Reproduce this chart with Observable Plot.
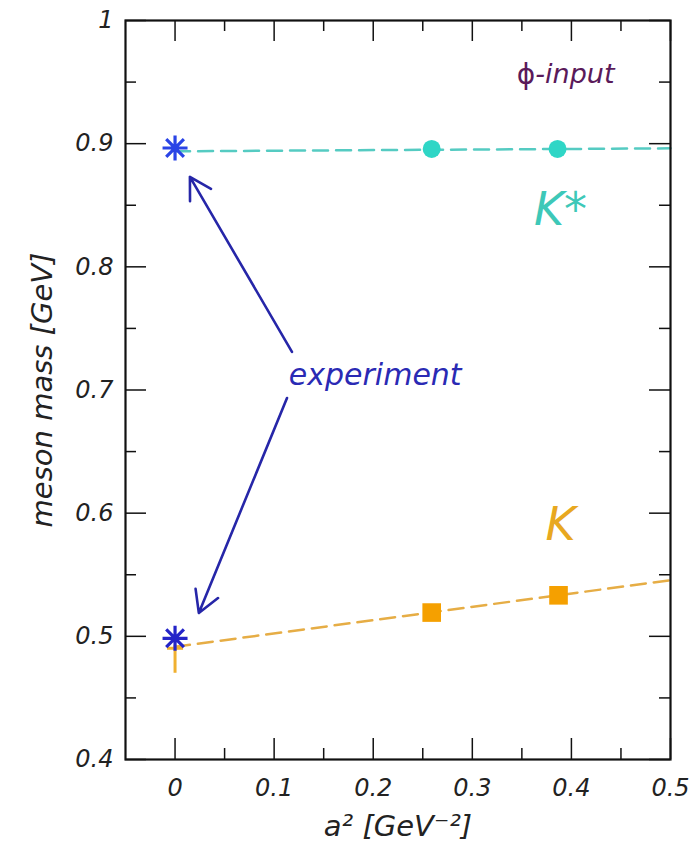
<!DOCTYPE html>
<html>
<head>
<meta charset="utf-8">
<script src="https://cdn.jsdelivr.net/npm/d3@7"></script>
<script src="https://cdn.jsdelivr.net/npm/@observablehq/plot@0.6"></script>
<style>
  html, body { margin: 0; padding: 0; background: #fff; }
  #chart svg { display: block; }
</style>
</head>
<body>
<div id="chart"></div>
<script>
// ---- data ----
const xMajor = [0, 0.1, 0.2, 0.3, 0.4, 0.5];
const xTickLabels = ["0", "0.1", "0.2", "0.3", "0.4", "0.5"];
const xMinor = [0.05, 0.15, 0.25, 0.35, 0.45];
const yMajor = [0.4, 0.5, 0.6, 0.7, 0.8, 0.9, 1.0];
const yTickLabels = ["0.4", "0.5", "0.6", "0.7", "0.8", "0.9", "1"];
const yMinor = [0.45, 0.55, 0.65, 0.75, 0.85, 0.95];

// lattice points
const kstarA2 = [0.259, 0.386];
const kstarMass = [0.8957, 0.8957];
const kA2 = [0.259, 0.387];
const kMass = [0.5193, 0.5333];

// linear fits (dashed)
const kstarFitX = [0, 0.5];
const kstarFitY = [0.8938, 0.8962];
const kFitX = [0, 0.5];
const kFitY = [0.4915, 0.5456];

// extrapolated K with error
const kExtrap = [{x: 0, y: 0.4903, lo: 0.470, hi: 0.4927}];

// experiment
const expA2 = [0, 0];
const expMass = [0.8965, 0.4984];
const expColors = ["#2a44e6", "#2424c8"];

// annotations
const labels = [
  {x: 0.389, y: 0.846, text: "K*", color: "#3ec8b8", size: 46},
  {x: 0.389, y: 0.590, text: "K", color: "#e8a820", size: 46},
  {x: 0.202, y: 0.712, text: "experiment", color: "#2a2ab4", size: 30}
];
const phiLabel = [{x: 0.3636, y: 0.956}];
const arrows = [
  {x1: 0.118, y1: 0.731, x2: 0.015, y2: 0.873},
  {x1: 0.113, y1: 0.6935, x2: 0.024, y2: 0.519}
];

// ---- build ----
const W = 697, H = 852;
const mL = 125, mR = 27, mT = 20, mB = 93;
const innerW = W - mL - mR, innerH = H - mT - mB;
const font = "DejaVu Sans";

const asterisk = {
  draw(ctx, size) {
    const r = Math.sqrt(size / Math.PI);
    for (let k = 0; k < 4; k++) {
      const a = k * Math.PI / 4;
      const dx = r * Math.cos(a), dy = r * Math.sin(a);
      ctx.moveTo(-dx, -dy); ctx.lineTo(dx, dy);
    }
  }
};
const hline = {
  draw(ctx, size) {
    const r = Math.sqrt(size / Math.PI);
    ctx.moveTo(-r, 0); ctx.lineTo(r, 0);
  }
};

const kstarPts = kstarA2.map((x, i) => ({x, y: kstarMass[i]}));
const kPts = kA2.map((x, i) => ({x, y: kMass[i]}));
const kstarFit = kstarFitX.map((x, i) => ({x, y: kstarFitY[i]}));
const kFit = kFitX.map((x, i) => ({x, y: kFitY[i]}));
const expPts = expA2.map((x, i) => ({x, y: expMass[i], c: expColors[i]}));

const chart = Plot.plot({
  width: W, height: H,
  marginLeft: mL, marginRight: mR, marginTop: mT, marginBottom: mB,
  style: {fontFamily: font, background: "#fff"},
  x: {domain: [-0.05, 0.5], axis: null},
  y: {domain: [0.4, 1.0], axis: null},
  marks: [
    // tick labels
    Plot.axisX({anchor: "bottom", ticks: xMajor, tickSize: 0, tickPadding: 19,
      tickFormat: d => xTickLabels[xMajor.indexOf(d)], fontSize: 24, fontStyle: "italic", fill: "#222"}),
    Plot.axisY({anchor: "left", ticks: yMajor, tickSize: 0, tickPadding: 12,
      tickFormat: d => yTickLabels[yMajor.indexOf(d)], fontSize: 24, fontStyle: "italic", fill: "#222"}),
    // axis titles
    Plot.text(["meson mass [GeV]"], {frameAnchor: "left", textAnchor: "middle", rotate: -90, dx: -83,
      fontSize: 29, fontStyle: "italic", fill: "#222"}),
    Plot.text(["a² [GeV⁻²]"], {frameAnchor: "bottom", textAnchor: "middle", dy: 76,
      fontSize: 29, fontStyle: "italic", fill: "#222"}),
    // inward ticks
    Plot.tickX(xMajor, {x: d => d, insetTop: innerH - 21, stroke: "#111", strokeWidth: 1.5}),
    Plot.tickX(xMinor, {x: d => d, insetTop: innerH - 11, stroke: "#111", strokeWidth: 1.5}),
    Plot.tickX(xMajor, {x: d => d, insetBottom: innerH - 21, stroke: "#111", strokeWidth: 1.5}),
    Plot.tickX(xMinor, {x: d => d, insetBottom: innerH - 11, stroke: "#111", strokeWidth: 1.5}),
    Plot.tickY(yMajor, {y: d => d, insetRight: innerW - 21, stroke: "#111", strokeWidth: 1.5}),
    Plot.tickY(yMinor, {y: d => d, insetRight: innerW - 11, stroke: "#111", strokeWidth: 1.5}),
    Plot.tickY(yMajor, {y: d => d, insetLeft: innerW - 21, stroke: "#111", strokeWidth: 1.5}),
    Plot.tickY(yMinor, {y: d => d, insetLeft: innerW - 11, stroke: "#111", strokeWidth: 1.5}),
    // fits
    Plot.line(kstarFit, {x: "x", y: "y", stroke: "#55cbc2", strokeWidth: 2.5, strokeDasharray: "15,8"}),
    Plot.line(kFit, {x: "x", y: "y", stroke: "#e6ad45", strokeWidth: 2.5, strokeDasharray: "15,8"}),
    // lattice points
    Plot.dot(kstarPts, {x: "x", y: "y", r: 9, fill: "#2fd6c6", stroke: "none"}),
    Plot.dot(kPts, {x: "x", y: "y", symbol: "square", r: 10.5, fill: "#f5a000", stroke: "none"}),
    // extrapolated K
    Plot.ruleX(kExtrap, {x: "x", y1: "lo", y2: "hi", stroke: "#f0b030", strokeWidth: 3}),
    Plot.dot(kExtrap, {x: "x", y: "y", symbol: hline, r: 8, fill: "none", stroke: "#f0b030", strokeWidth: 3}),
    // experiment
    Plot.dot(expPts, {x: "x", y: "y", symbol: asterisk, r: 12.5, fill: "none", stroke: "c", strokeWidth: 3.2}),
    // arrows
    Plot.arrow(arrows, {x1: "x1", y1: "y1", x2: "x2", y2: "y2", stroke: "#2626a8", strokeWidth: 2.6, headLength: 14}),
    // annotations
    Plot.text(labels, {x: "x", y: "y", text: "text", fill: "color", fontSize: "size", fontStyle: "italic"}),
    Plot.text(phiLabel, {x: "x", y: "y", text: () => "ϕ", textAnchor: "end", fill: "#5a1a5a", fontSize: 28}),
    Plot.text(phiLabel, {x: "x", y: "y", text: () => "-input", textAnchor: "start", fill: "#5a1a5a", fontSize: 27, fontStyle: "italic"}),
    // frame
    Plot.frame({stroke: "#111", strokeWidth: 2.2})
  ]
});
document.getElementById("chart").appendChild(chart);
</script>
</body>
</html>
